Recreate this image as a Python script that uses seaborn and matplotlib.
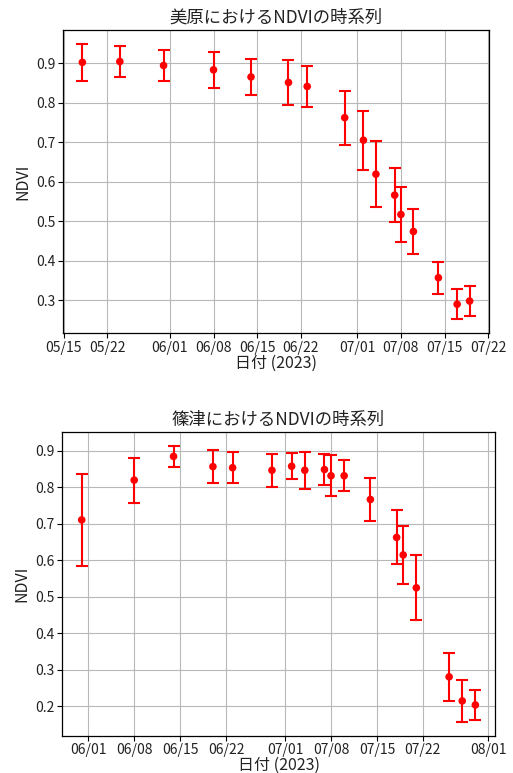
import matplotlib
matplotlib.use("Agg")
import matplotlib.pyplot as plt
import matplotlib.dates as mdates
import numpy as np
import pandas as pd
import seaborn as sns

sns.set_style("ticks")
plt.rcParams["font.family"] = ["Noto Sans CJK JP", "DejaVu Sans"]
plt.rcParams["axes.unicode_minus"] = False
plt.rcParams["text.color"] = "#222222"
plt.rcParams["axes.labelcolor"] = "#222222"
plt.rcParams["xtick.color"] = "black"
plt.rcParams["ytick.color"] = "black"
plt.rcParams["xtick.labelcolor"] = "#222222"
plt.rcParams["ytick.labelcolor"] = "#222222"

# 美原
mihara_dates = ["2023-05-18", "2023-05-24", "2023-05-31", "2023-06-08", "2023-06-14",
                "2023-06-20", "2023-06-23", "2023-06-29", "2023-07-02", "2023-07-04",
                "2023-07-07", "2023-07-08", "2023-07-10", "2023-07-14", "2023-07-17",
                "2023-07-19"]
mihara_ndvi = [0.902, 0.904, 0.894, 0.883, 0.865, 0.851, 0.841, 0.762, 0.705, 0.619,
               0.566, 0.517, 0.474, 0.357, 0.290, 0.298]
mihara_std = [0.047, 0.040, 0.038, 0.045, 0.045, 0.057, 0.053, 0.068, 0.075, 0.083,
              0.068, 0.069, 0.058, 0.040, 0.038, 0.037]

# 篠津
shinotsu_dates = ["2023-05-31", "2023-06-08", "2023-06-14", "2023-06-20", "2023-06-23",
                  "2023-06-29", "2023-07-02", "2023-07-04", "2023-07-07", "2023-07-08",
                  "2023-07-10", "2023-07-14", "2023-07-18", "2023-07-19", "2023-07-21",
                  "2023-07-26", "2023-07-28", "2023-07-30"]
shinotsu_ndvi = [0.711, 0.820, 0.885, 0.857, 0.854, 0.847, 0.858, 0.847, 0.849, 0.832,
                 0.832, 0.767, 0.663, 0.615, 0.525, 0.281, 0.215, 0.204]
shinotsu_std = [0.125, 0.062, 0.029, 0.045, 0.042, 0.045, 0.036, 0.050, 0.042, 0.056,
                0.043, 0.058, 0.074, 0.080, 0.089, 0.065, 0.057, 0.041]

panels = [
    ("美原におけるNDVIの時系列", mihara_dates, mihara_ndvi, mihara_std),
    ("篠津におけるNDVIの時系列", shinotsu_dates, shinotsu_ndvi, shinotsu_std),
]

fig = plt.figure(figsize=(5.13, 7.73), dpi=100)
axes = [fig.add_axes([0.1228, 0.5692, 0.8304, 0.3920]),
        fig.add_axes([0.1209, 0.0485, 0.8441, 0.3926])]

for ax, (title, dates, ndvi, std) in zip(axes, panels):
    df = pd.DataFrame({"date": pd.to_datetime(dates), "ndvi": ndvi, "std": std})
    ax.errorbar(df["date"], df["ndvi"], yerr=df["std"], fmt="none",
                ecolor="red", elinewidth=1.5, capsize=4, capthick=1.5, zorder=3)
    sns.scatterplot(data=df, x="date", y="ndvi", ax=ax, color="red", s=30,
                    edgecolor="none", zorder=4)
    ax.grid(True, color="#b8b8b8", linewidth=0.8)
    ax.set_axisbelow(True)
    ax.xaxis.set_major_locator(mdates.DayLocator(bymonthday=[1, 8, 15, 22]))
    ax.xaxis.set_major_formatter(mdates.DateFormatter("%m/%d"))
    ax.set_title(title, fontsize=12.5, pad=5)
    ax.set_xlabel("日付 (2023)", fontsize=11.5, labelpad=0)
    ax.set_ylabel("NDVI", fontsize=11.5, labelpad=3)
    ax.tick_params(labelsize=10, length=3.5, width=0.8, pad=2)
    for sp in ax.spines.values():
        sp.set_color("black")
        sp.set_linewidth(0.9)

fig.savefig("out.png", dpi=100)
